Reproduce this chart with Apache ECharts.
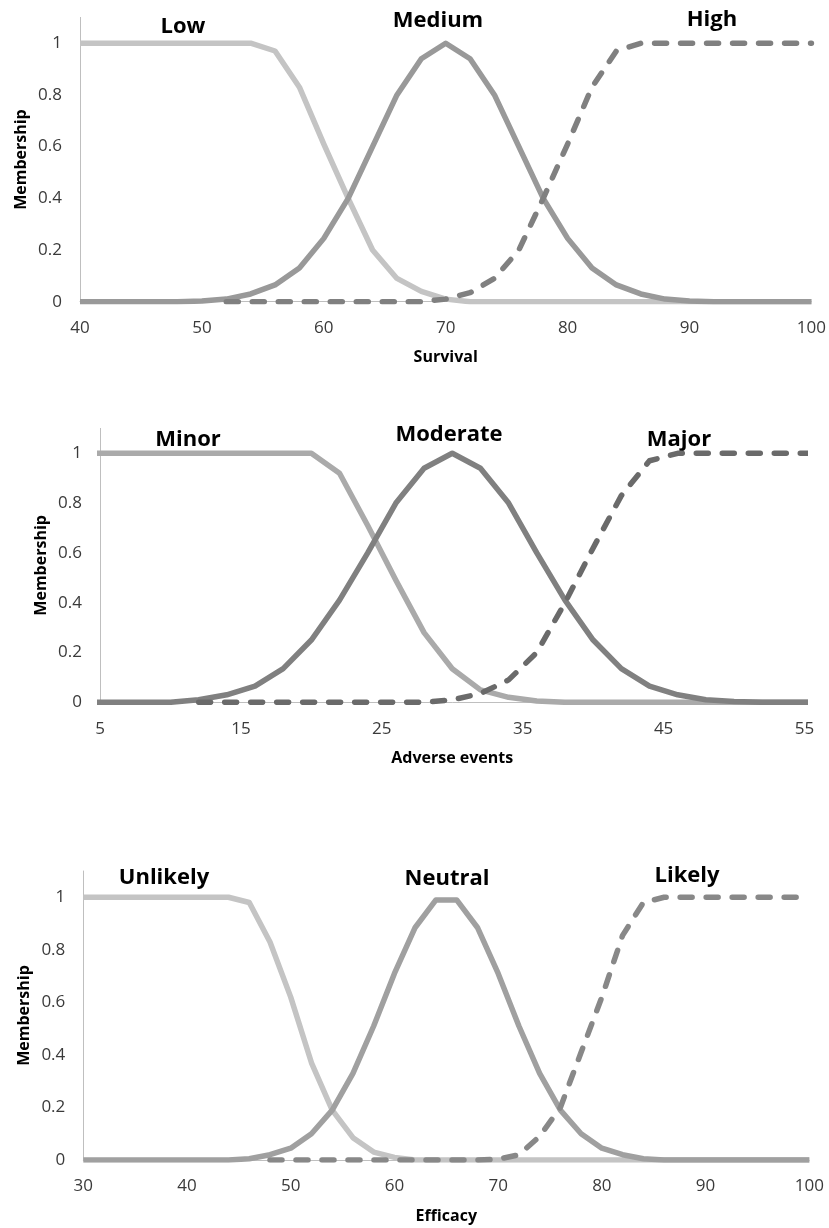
<!DOCTYPE html>
<html>
<head>
<meta charset="utf-8">
<script src="https://cdn.jsdelivr.net/npm/echarts@6/dist/echarts.min.js"></script>
<style>
  html, body { margin: 0; padding: 0; background: #ffffff; }
  #chart { width: 829px; height: 1228px; }
</style>
</head>
<body>
<div id="chart"></div>
<script>
// Fuzzy membership functions for three criteria, sampled every 2 units.

// --- Survival ---
const survivalX = [40, 42, 44, 46, 48, 50, 52, 54, 56, 58, 60, 62, 64, 66, 68, 70,
                   72, 74, 76, 78, 80, 82, 84, 86, 88, 90, 92, 94, 96, 98, 100];
const survivalLow = [1, 1, 1, 1, 1, 1, 1, 1, 0.97, 0.83, 0.61, 0.4, 0.2, 0.09, 0.04, 0.01,
                     0, 0, 0, 0, 0, 0, 0, 0, 0, 0, 0, 0, 0, 0, 0];
const survivalMedium = [0, 0, 0, 0, 0, 0.003, 0.01, 0.03, 0.065, 0.13, 0.245, 0.4, 0.6, 0.8, 0.94, 1,
                        0.94, 0.8, 0.6, 0.4, 0.245, 0.13, 0.065, 0.03, 0.01, 0.003, 0, 0, 0, 0, 0];
const survivalHigh = [null, null, null, null, null, null, 0, 0, 0, 0, 0, 0, 0, 0, 0, 0.01,
                      0.035, 0.09, 0.2, 0.4, 0.61, 0.83, 0.97, 1, 1, 1, 1, 1, 1, 1, 1];
const survivalTicks = [40, 50, 60, 70, 80, 90, 100];

// --- Adverse events ---
const adverseX = [4, 6, 8, 10, 12, 14, 16, 18, 20, 22, 24, 26, 28, 30,
                  32, 34, 36, 38, 40, 42, 44, 46, 48, 50, 52, 54, 56];
const adverseMinor = [1, 1, 1, 1, 1, 1, 1, 1, 1, 0.92, 0.71, 0.49, 0.28, 0.135,
                      0.05, 0.02, 0.005, 0, 0, 0, 0, 0, 0, 0, 0, 0, 0];
const adverseModerate = [0, 0, 0, 0, 0.01, 0.03, 0.065, 0.135, 0.25, 0.41, 0.6, 0.8, 0.94, 1,
                         0.94, 0.8, 0.6, 0.41, 0.25, 0.135, 0.065, 0.03, 0.01, 0.003, 0, 0, 0];
const adverseMajor = [null, null, null, null, 0, 0, 0, 0, 0, 0, 0, 0, 0, 0.01,
                      0.035, 0.09, 0.2, 0.4, 0.62, 0.83, 0.97, 1, 1, 1, 1, 1, 1];
const adverseTicks = [5, 15, 25, 35, 45, 55];

// --- Efficacy ---
const efficacyX = [30, 32, 34, 36, 38, 40, 42, 44, 46, 48, 50, 52, 54, 56, 58, 60, 62, 64,
                   66, 68, 70, 72, 74, 76, 78, 80, 82, 84, 86, 88, 90, 92, 94, 96, 98, 100];
const efficacyUnlikely = [1, 1, 1, 1, 1, 1, 1, 1, 0.98, 0.83, 0.62, 0.37, 0.19, 0.085, 0.03, 0.01, 0, 0,
                          0, 0, 0, 0, 0, 0, 0, 0, 0, 0, 0, 0, 0, 0, 0, 0, 0, 0];
const efficacyNeutral = [0, 0, 0, 0, 0, 0, 0, 0, 0.005, 0.02, 0.045, 0.1, 0.19, 0.33, 0.51, 0.71, 0.885, 0.99,
                         0.99, 0.885, 0.71, 0.51, 0.33, 0.19, 0.1, 0.045, 0.02, 0.005, 0, 0, 0, 0, 0, 0, 0, 0];
const efficacyLikely = [null, null, null, null, null, null, null, null, null, 0, 0, 0, 0, 0, 0, 0, 0, 0,
                        0, 0, 0.003, 0.02, 0.09, 0.2, 0.41, 0.62, 0.855, 0.98, 1, 1, 1, 1, 1, 1, 1, 1];
const efficacyTicks = [30, 40, 50, 60, 70, 80, 90, 100];

const membershipTicks = [0, 0.2, 0.4, 0.6, 0.8, 1];

const FONT = '"Open Sans", "DejaVu Sans", sans-serif';
const LINE_W = 5.5;

function pairs(xs, ys) {
  return xs.map((x, i) => [x, ys[i]]);
}

function xAxisFor(gridIndex, name, min, max, ticks) {
  return {
    type: 'value', gridIndex, min, max, name,
    nameLocation: 'middle', nameGap: 48,
    nameTextStyle: { fontFamily: FONT, fontWeight: 'bold', fontSize: 16, color: '#000' },
    axisLine: { show: true, onZero: false, lineStyle: { color: '#bfbfbf', width: 1 } },
    axisTick: { show: false },
    splitLine: { show: false },
    axisLabel: { customValues: ticks, margin: 18, fontFamily: FONT, fontSize: 17, color: '#3a3a3a' }
  };
}

function yAxisFor(gridIndex) {
  return {
    type: 'value', gridIndex, min: 0, max: 1.1, name: 'Membership',
    nameLocation: 'middle', nameGap: 51, nameRotate: 90, nameMoveOverlap: false,
    nameTextStyle: { fontFamily: FONT, fontWeight: 'bold', fontSize: 16, color: '#000' },
    axisLine: { show: true, lineStyle: { color: '#bfbfbf', width: 1 } },
    axisTick: { show: false },
    splitLine: { show: false },
    axisLabel: { customValues: membershipTicks, margin: 18, fontFamily: FONT, fontSize: 17, color: '#3a3a3a' }
  };
}

function curve(idx, xs, ys, color, dashed) {
  return {
    type: 'line', xAxisIndex: idx, yAxisIndex: idx,
    data: pairs(xs, ys),
    symbol: 'none', smooth: false, silent: true, animation: false,
    lineStyle: {
      color, width: LINE_W,
      type: dashed ? [12, 14] : 'solid',
      cap: dashed ? 'round' : 'butt',
      join: 'round'
    }
  };
}

function label(text, x, y) {
  return {
    type: 'text', x, y, silent: true,
    style: { text, fill: '#000', font: 'bold 22px ' + FONT, textAlign: 'center', textVerticalAlign: 'middle' }
  };
}

const chart = echarts.init(document.getElementById('chart'), null, { renderer: 'canvas' });

chart.setOption({
  backgroundColor: '#ffffff',
  animation: false,
  grid: [
    { left: 80, top: 17.4, width: 732, height: 284.3 },
    { left: 100, top: 428.4, width: 704.5, height: 273.9 },
    { left: 83.3, top: 871, width: 726, height: 289 }
  ],
  xAxis: [
    xAxisFor(0, 'Survival', 40, 100, survivalTicks),
    xAxisFor(1, 'Adverse events', 5, 55, adverseTicks),
    xAxisFor(2, 'Efficacy', 30, 100, efficacyTicks)
  ],
  yAxis: [yAxisFor(0), yAxisFor(1), yAxisFor(2)],
  series: [
    curve(0, survivalX, survivalLow, '#c4c4c4', false),
    curve(0, survivalX, survivalMedium, '#999999', false),
    curve(0, survivalX, survivalHigh, '#808080', true),
    curve(1, adverseX, adverseMinor, '#aaaaaa', false),
    curve(1, adverseX, adverseModerate, '#808080', false),
    curve(1, adverseX, adverseMajor, '#6a6a6a', true),
    curve(2, efficacyX, efficacyUnlikely, '#c4c4c4', false),
    curve(2, efficacyX, efficacyNeutral, '#a0a0a0', false),
    curve(2, efficacyX, efficacyLikely, '#888888', true)
  ],
  graphic: [
    label('Low', 183, 27),
    label('Medium', 438, 21),
    label('High', 712, 20),
    label('Minor', 188, 440),
    label('Moderate', 449, 435),
    label('Major', 679, 440),
    label('Unlikely', 164, 878),
    label('Neutral', 447, 879),
    label('Likely', 687, 876)
  ]
});
</script>
</body>
</html>
